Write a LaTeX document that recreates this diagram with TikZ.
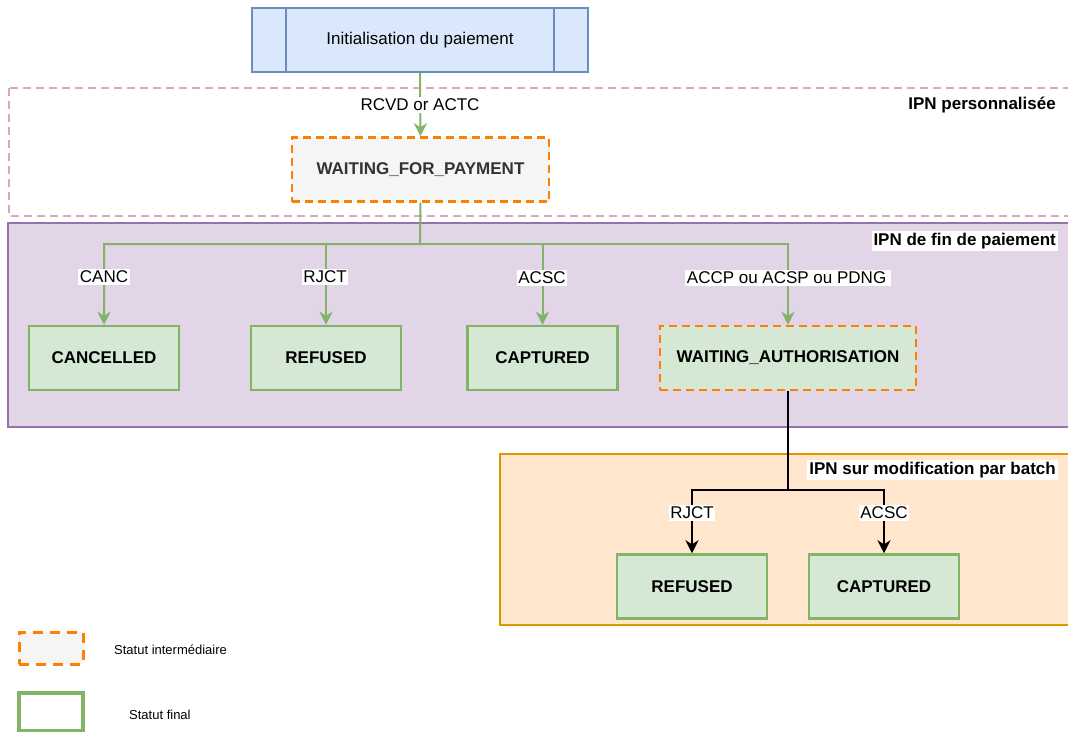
\documentclass[tikz,border=0pt]{standalone}
\usepackage{fontspec}
\setmainfont{Liberation Sans}
\usetikzlibrary{arrows.meta,positioning}
\definecolor{blueF}{HTML}{DAE8FC}
\definecolor{blueS}{HTML}{6C8EBF}
\definecolor{greenF}{HTML}{D5E8D4}
\definecolor{greenS}{HTML}{82B366}
\definecolor{greyF}{HTML}{F5F5F5}
\definecolor{orangeS}{HTML}{FF8000}
\definecolor{purpleF}{HTML}{E1D5E7}
\definecolor{purpleS}{HTML}{9673A6}
\definecolor{pinkS}{HTML}{D5A6C8}
\definecolor{peachF}{HTML}{FFE6CC}
\definecolor{peachS}{HTML}{D79B00}
\definecolor{darkT}{HTML}{333333}
\tikzset{
  finalbox/.style={draw=greenS, fill=greenF, line width=2.5pt, minimum width=150pt, minimum height=64pt, inner sep=0pt, font=\fontsize{17}{20}\selectfont\bfseries},
  interbox/.style={draw=orangeS, line width=2.5pt, dash pattern=on 8pt off 5pt, minimum height=64pt, inner sep=0pt, font=\fontsize{17}{20}\selectfont\bfseries},
  lbl/.style={fill=white, inner sep=1.5pt, font=\fontsize{17}{20}\selectfont},
  grouplbl/.style={fill=white, inner sep=2pt, anchor=east, font=\fontsize{17}{20}\selectfont\bfseries},
  gedge/.style={draw=greenS, line width=2pt, -{Stealth[length=13pt,width=13pt,inset=4pt]}},
  bedge/.style={draw=black, line width=2pt, -{Stealth[length=13pt,width=13pt,inset=4pt]}},
  legtxt/.style={anchor=west, inner sep=0pt, font=\fontsize{13}{15}\selectfont},
}
\begin{document}
\begin{tikzpicture}[x=1pt,y=-1pt]
\clip (0,0) rectangle (1068,731);
\fill[white] (0,0) rectangle (1068,731);
% containers
\draw[pinkS, line width=1.5pt, dash pattern=on 8pt off 5pt] (9,88) rectangle (1075,216);
\draw[purpleS, fill=purpleF, line width=1.5pt] (8,223) rectangle (1075,427);
\draw[peachS, fill=peachF, line width=1.8pt] (500,454) rectangle (1075,625);
\node[grouplbl] (gl1) at (1058,105) {IPN personnalisée};
\node[grouplbl] (gl2) at (1058,241) {IPN de fin de paiement};
\node[grouplbl] (gl3) at (1058,470) {IPN sur modification par batch};
% init box
\node[draw=blueS, fill=blueF, line width=1.8pt, minimum width=336pt, minimum height=64pt, inner sep=0pt, font=\fontsize{17}{20}\selectfont] (init) at (420,40) {Initialisation du paiement};
\draw[blueS, line width=1.8pt] (286,8) -- (286,72) (554,8) -- (554,72);
% nodes
\node[interbox, fill=greyF, minimum width=257pt, text=darkT] (wfp) at (420.5,169.5) {WAITING\_FOR\_PAYMENT};
\node[finalbox] (canc) at (104,358) {CANCELLED};
\node[finalbox] (ref1) at (326,358) {REFUSED};
\node[finalbox] (cap1) at (542.5,358) {CAPTURED};
\node[interbox, fill=greenF, minimum width=256pt] (wa) at (788,358) {WAITING\_AUTHORISATION};
\node[finalbox] (ref2) at (692,586.5) {REFUSED};
\node[finalbox] (cap2) at (884,586.5) {CAPTURED};
% edges
\draw[gedge] (init.south) -- (wfp.north);
\node[lbl] (l0) at (420,105) {RCVD or ACTC};
\coordinate (j1) at (420,244);
\draw[gedge] (wfp.south) -- (j1) -| (canc.north);
\draw[gedge] (j1) -| (ref1.north);
\draw[gedge] (j1) -| (cap1.north);
\draw[gedge] (j1) -| (wa.north);
\node[lbl] (l1) at (104,277) {CANC};
\node[lbl] (l2) at (325,277) {RJCT};
\node[lbl] (l3) at (542,278) {ACSC};
\node[lbl] (l4) at (788,278) {ACCP ou ACSP ou PDNG\,};
\coordinate (j2) at (788,490);
\draw[bedge] (wa.south) -- (j2) -| (ref2.north);
\draw[bedge] (j2) -| (cap2.north);
\node[lbl] (l5) at (692,513) {RJCT};
\node[lbl] (l6) at (884,513) {ACSC};
% legend
\node[draw=orangeS, fill=greyF, line width=3pt, dash pattern=on 10pt off 7pt, minimum width=64pt, minimum height=32pt, inner sep=0pt] (leg1) at (51,648) {};
\node[legtxt] (legt1) at (114,650) {Statut intermédiaire};
\node[draw=greenS, fill=white, line width=4pt, minimum width=64pt, minimum height=38pt, inner sep=0pt] (leg2) at (51,712) {};
\node[legtxt] (legt2) at (129,715) {Statut final};
\end{tikzpicture}
\end{document}
